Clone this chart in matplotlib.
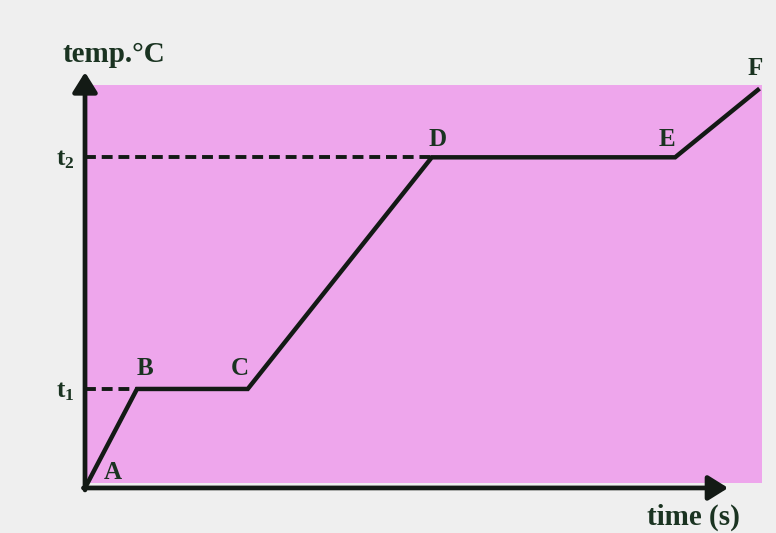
import matplotlib
matplotlib.use("Agg")
import matplotlib.pyplot as plt
from matplotlib.patches import Rectangle

plt.rcParams['mathtext.fontset'] = 'custom'
plt.rcParams['mathtext.rm'] = 'Liberation Serif:bold'
plt.rcParams['mathtext.it'] = 'Liberation Serif:bold'
plt.rcParams['mathtext.bf'] = 'Liberation Serif:bold'

# Heating curve data (arbitrary units)
points = ["A", "B", "C", "D", "E", "F"]
time_vals = [0, 1.0, 3.13, 6.67, 11.35, 12.94]
temp_vals = [0, 10.0, 10.0, 33.4, 33.4, 40.2]
level_labels = [r"$\mathrm{t}_{1}$", r"$\mathrm{t}_{2}$"]
level_vals = [10.0, 33.4]
level_ends = [1.0, 6.67]
x_label = "time (s)"
y_label = "temp.°C"

label_offsets = {"A": (28, 15), "B": (8, 20), "C": (-8, 20),
                 "D": (6, 18), "E": (-8, 18), "F": (-3, 21)}

ink = "#131a15"
txt = "#1a3321"
pink = "#eea6ec"
bg = "#efefef"

fig = plt.figure(figsize=(7.76, 5.33), dpi=100, facecolor=bg)
ax = fig.add_axes([0, 0, 1, 1])
ax.set_facecolor(bg)
ax.set_xlim(-1.635, 13.29)
ax.set_ylim(-4.55, 49.29)
ax.axis("off")

# pink panel
ax.add_patch(Rectangle((0, 0.5), 13.02, 40.2, facecolor=pink, edgecolor="none", zorder=0))

# axes with arrows
arrow_style = "-|>,head_length=0.8,head_width=0.5"
ax.annotate("", xy=(0, 42.0), xytext=(0, -0.2),
            arrowprops=dict(arrowstyle=arrow_style, color=ink, lw=3.4,
                            mutation_scale=15, shrinkA=0, shrinkB=0),
            zorder=4)
ax.annotate("", xy=(12.37, 0), xytext=(-0.03, 0),
            arrowprops=dict(arrowstyle=arrow_style, color=ink, lw=3.4,
                            mutation_scale=15, shrinkA=0, shrinkB=0),
            zorder=4)

# dashed reference lines
for lv, le in zip(level_vals, level_ends):
    ax.plot([0, le], [lv, lv], color=ink, lw=2.8, ls=(0, (2.8, 1.5)), zorder=3)

# heating curve
ax.plot(time_vals, temp_vals, color=ink, lw=3.2, solid_joinstyle="miter", zorder=5)

# point labels
for p, x, y in zip(points, time_vals, temp_vals):
    ax.annotate(p, xy=(x, y), xytext=label_offsets[p], textcoords="offset pixels",
                ha="center", va="center", fontsize=18, fontweight="bold",
                family="Liberation Serif", color=txt, zorder=6)

# level labels
for lab, lv in zip(level_labels, level_vals):
    ax.annotate(lab, xy=(0, lv), xytext=(-20, -2), textcoords="offset pixels",
                ha="center", va="center", fontsize=18, color=txt)

# axis titles
ax.annotate(y_label, xy=(0, 42.0), xytext=(29, 18), textcoords="offset pixels",
            ha="center", va="center", fontsize=21, fontweight="bold",
            family="Liberation Serif", color=txt)
ax.annotate(x_label, xy=(12.37, 0), xytext=(-35, -29), textcoords="offset pixels",
            ha="center", va="center", fontsize=21, fontweight="bold",
            family="Liberation Serif", color=txt)

fig.savefig("out.png", dpi=100, facecolor=bg)
